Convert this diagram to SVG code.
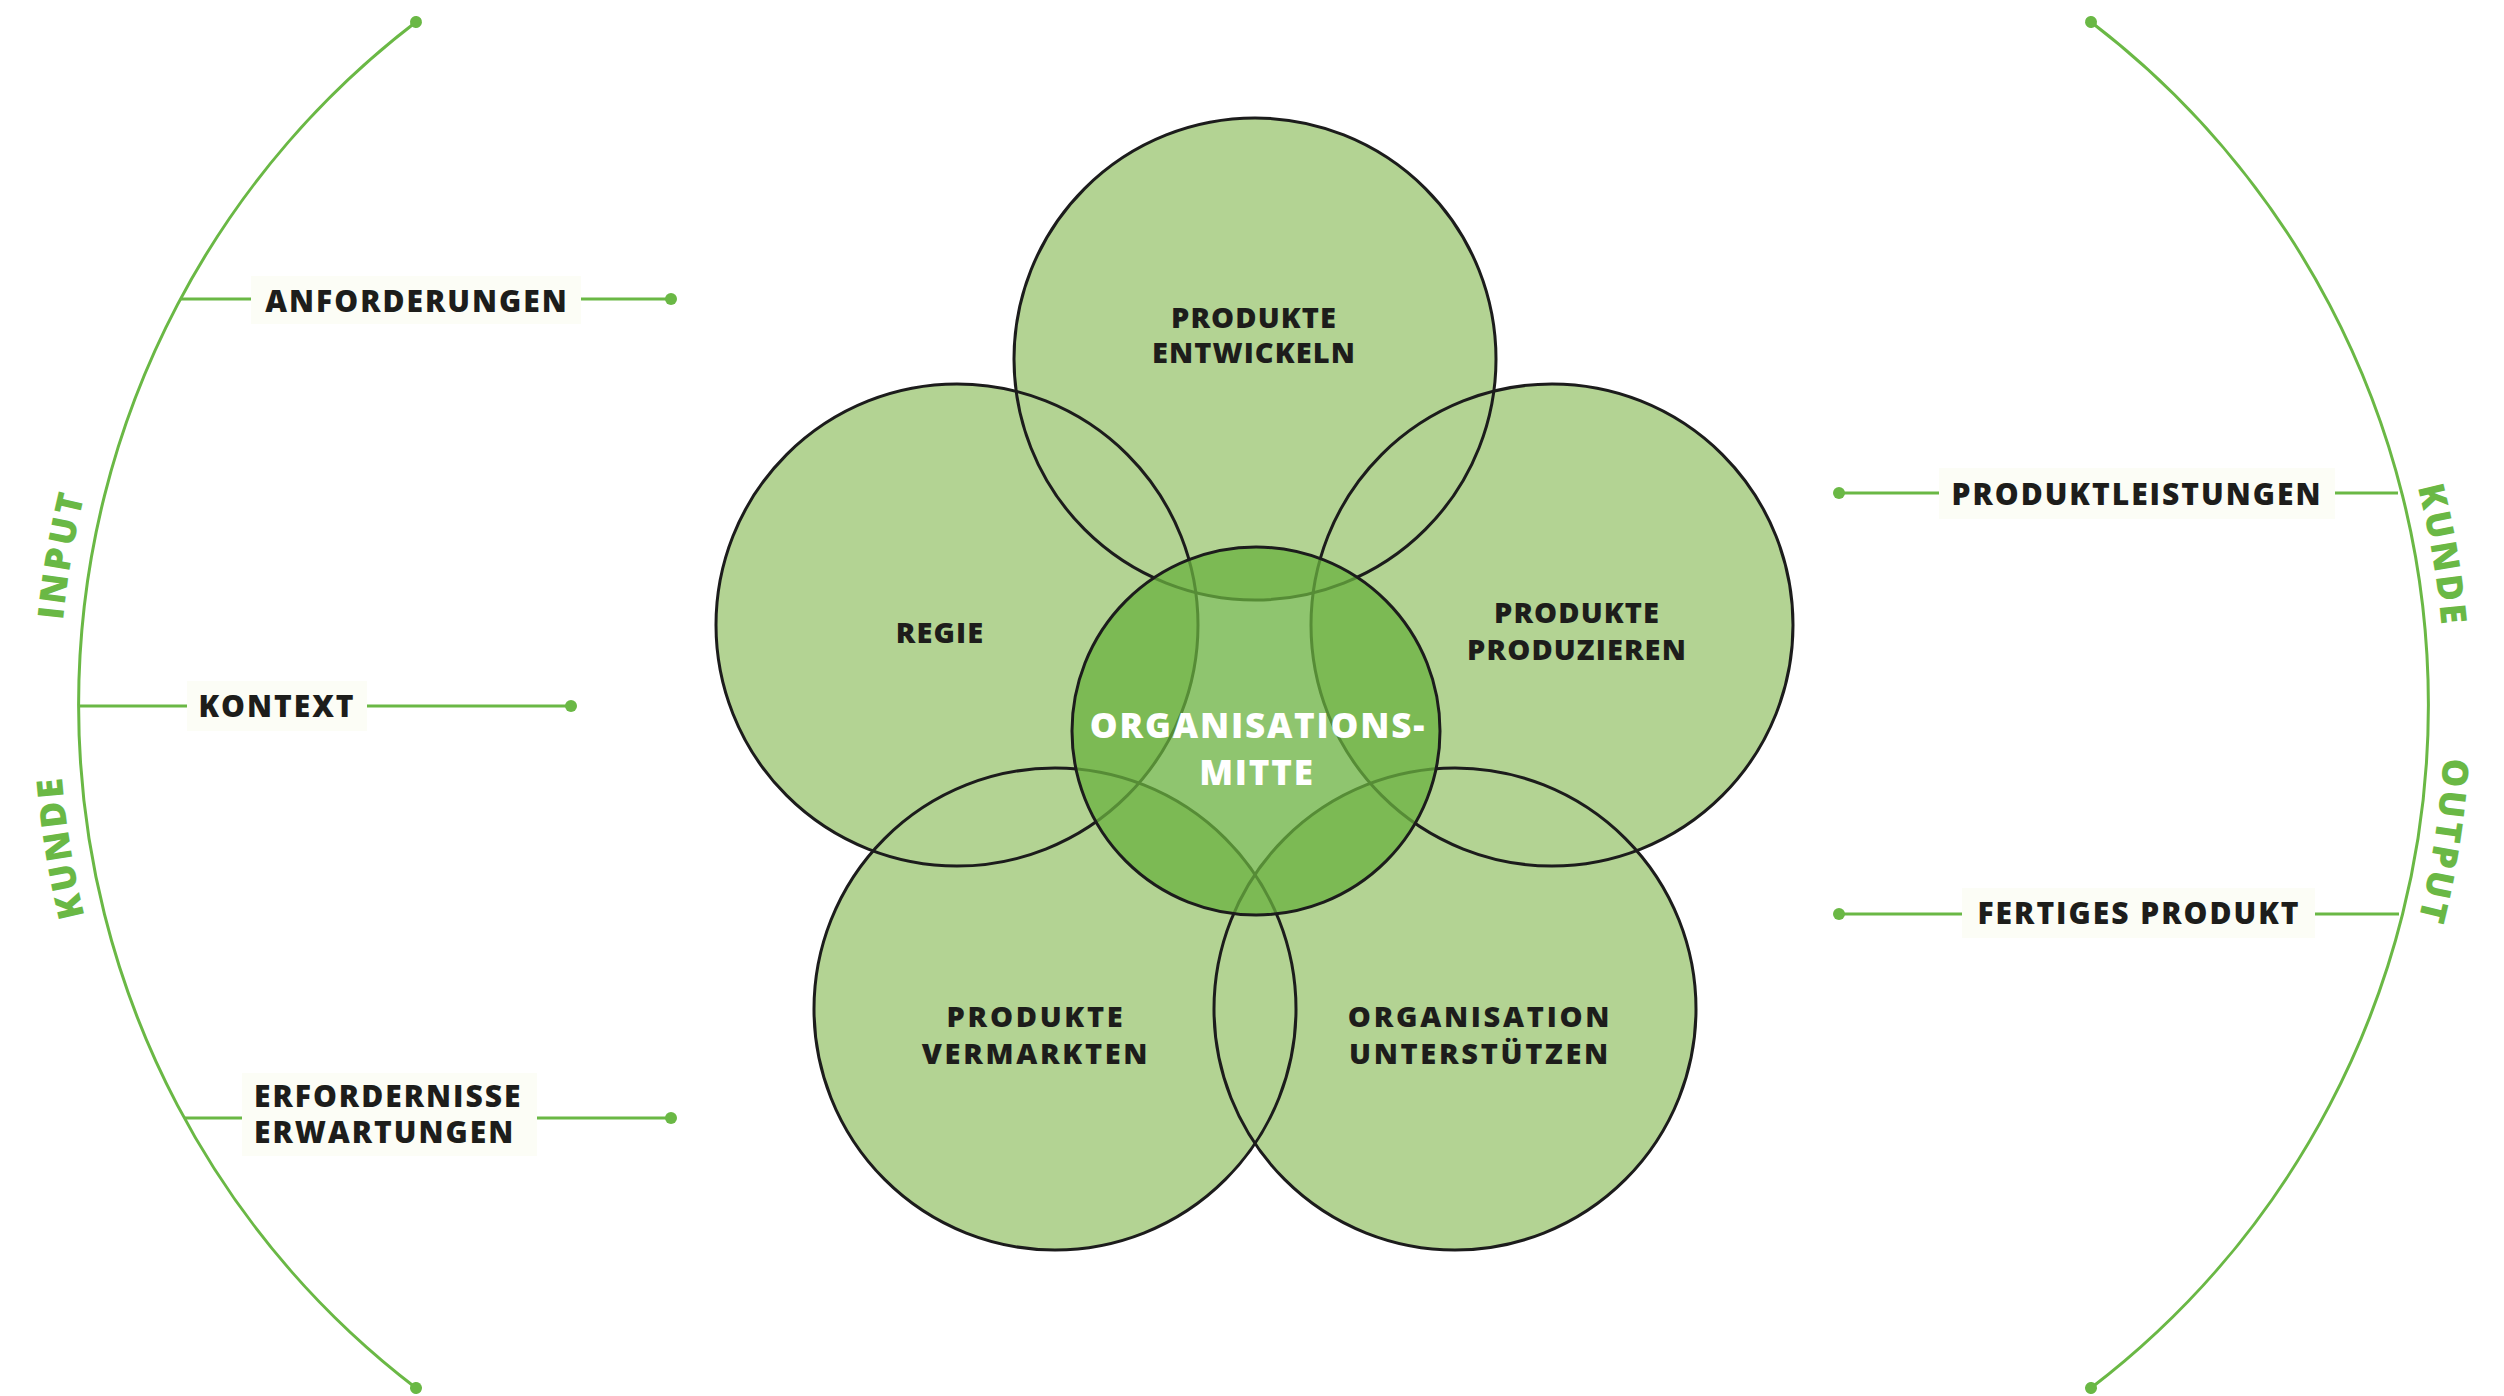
<svg xmlns="http://www.w3.org/2000/svg" width="2504" height="1396" viewBox="0 0 2504 1396">
<defs>
<style>
.petal{fill:#b3d393;stroke:none}
.outline{fill:none;stroke:#1c1c1c;stroke-width:3}
.core{fill:#6ab23f;fill-opacity:0.75;stroke:#1c1c1c;stroke-width:3}
.ntxt{font-family:"Open Sans","Liberation Sans",sans-serif;font-weight:800;font-size:29px;letter-spacing:1.1px;fill:#1d1d1b;text-anchor:middle}
.wide{letter-spacing:2.7px}
.ctxt{font-family:"Open Sans","Liberation Sans",sans-serif;font-weight:800;font-size:35px;letter-spacing:1.8px;fill:#ffffff;text-anchor:middle}
.ltxt{font-family:"Open Sans","Liberation Sans",sans-serif;font-weight:800;font-size:30px;letter-spacing:2px;fill:#1d1d1b}
.lbg{fill:#fcfdf6}
.arctxt{font-family:"Open Sans","Liberation Sans",sans-serif;font-weight:800;font-size:36px;letter-spacing:3px;fill:#6ab845}
.conn{fill:none;stroke:#6ab845;stroke-width:3}
</style>
<marker id="dot" markerUnits="userSpaceOnUse" viewBox="-7 -7 14 14" refX="0" refY="0" markerWidth="14" markerHeight="14" orient="auto">
<circle cx="0" cy="0" r="6" fill="#6ab845"/>
</marker>
<path id="pInput" d="M 62.8 786.3 A 880 880 0 0 1 139.5 337.3"/>
<path id="pKundeL" d="M 136.3 1065.7 A 880 880 0 0 1 63.5 616.1"/>
<path id="pKundeR" d="M 2364.6 337.5 A 880 880 0 0 1 2441.2 786.6"/>
<path id="pOutput" d="M 2439.9 610.9 A 880 880 0 0 1 2369.8 1060.9"/>
</defs>
<rect width="2504" height="1396" fill="#ffffff"/>

<g id="connectors">
<path class="conn" d="M 416 1388 A 860 860 0 0 1 416 22" marker-start="url(#dot)" marker-end="url(#dot)"/>
<path class="conn" d="M 2091 22 A 860 860 0 0 1 2091 1388" marker-start="url(#dot)" marker-end="url(#dot)"/>
<path class="conn" d="M 181 299 L 671 299" marker-end="url(#dot)"/>
<path class="conn" d="M 79 706 L 571 706" marker-end="url(#dot)"/>
<path class="conn" d="M 185 1118 L 671 1118" marker-end="url(#dot)"/>
<path class="conn" d="M 2398 493 L 1839 493" marker-end="url(#dot)"/>
<path class="conn" d="M 2399 914 L 1839 914" marker-end="url(#dot)"/>
</g>

<g id="side-labels">
<text class="arctxt"><textPath href="#pInput" startOffset="50%" text-anchor="middle">INPUT</textPath></text>
<text class="arctxt"><textPath href="#pKundeL" startOffset="50%" text-anchor="middle">KUNDE</textPath></text>
<text class="arctxt"><textPath href="#pKundeR" startOffset="50%" text-anchor="middle">KUNDE</textPath></text>
<text class="arctxt"><textPath href="#pOutput" startOffset="50%" text-anchor="middle">OUTPUT</textPath></text>
</g>

<g id="label-anforderungen">
<rect class="lbg" x="251" y="276" width="330" height="48"/>
<text class="ltxt" x="417" y="312" text-anchor="middle">ANFORDERUNGEN</text>
</g>
<g id="label-kontext">
<rect class="lbg" x="187" y="681" width="180" height="50"/>
<text class="ltxt" x="277" y="717" text-anchor="middle">KONTEXT</text>
</g>
<g id="label-erfordernisse">
<rect class="lbg" x="242" y="1073" width="295" height="83"/>
<text class="ltxt" x="254" y="1107">ERFORDERNISSE</text>
<text class="ltxt" x="254" y="1143">ERWARTUNGEN</text>
</g>
<g id="label-produktleistungen">
<rect class="lbg" x="1939" y="468" width="396" height="51"/>
<text class="ltxt" x="2137" y="505" text-anchor="middle">PRODUKTLEISTUNGEN</text>
</g>
<g id="label-fertiges-produkt">
<rect class="lbg" x="1962" y="888" width="353" height="50"/>
<text class="ltxt" x="2139" y="924" text-anchor="middle">FERTIGES PRODUKT</text>
</g>

<g id="node-produkte-entwickeln">
<circle class="petal" cx="1255" cy="359" r="241"/>
<text class="ntxt" x="1254" y="328">PRODUKTE</text>
<text class="ntxt" x="1254" y="363">ENTWICKELN</text>
</g>
<g id="node-regie">
<circle class="petal" cx="957" cy="625" r="241"/>
<text class="ntxt" x="940" y="643">REGIE</text>
</g>
<g id="node-produkte-produzieren">
<circle class="petal" cx="1552" cy="625" r="241"/>
<text class="ntxt" x="1577" y="623">PRODUKTE</text>
<text class="ntxt" x="1577" y="660">PRODUZIEREN</text>
</g>
<g id="node-produkte-vermarkten">
<circle class="petal" cx="1055" cy="1009" r="241"/>
<text class="ntxt wide" x="1036" y="1027">PRODUKTE</text>
<text class="ntxt wide" x="1036" y="1064">VERMARKTEN</text>
</g>
<g id="node-organisation-unterstuetzen">
<circle class="petal" cx="1455" cy="1009" r="241"/>
<text class="ntxt wide" x="1480" y="1027">ORGANISATION</text>
<text class="ntxt wide" x="1480" y="1064">UNTERSTÜTZEN</text>
</g>

<g id="petal-outlines">
<circle class="outline" cx="1255" cy="359" r="241"/>
<circle class="outline" cx="957" cy="625" r="241"/>
<circle class="outline" cx="1552" cy="625" r="241"/>
<circle class="outline" cx="1055" cy="1009" r="241"/>
<circle class="outline" cx="1455" cy="1009" r="241"/>
</g>

<g id="node-organisationsmitte">
<circle class="core" cx="1256" cy="731" r="184"/>
<text class="ctxt" x="1258" y="738">ORGANISATIONS-</text>
<text class="ctxt" x="1257" y="785">MITTE</text>
</g>
</svg>
